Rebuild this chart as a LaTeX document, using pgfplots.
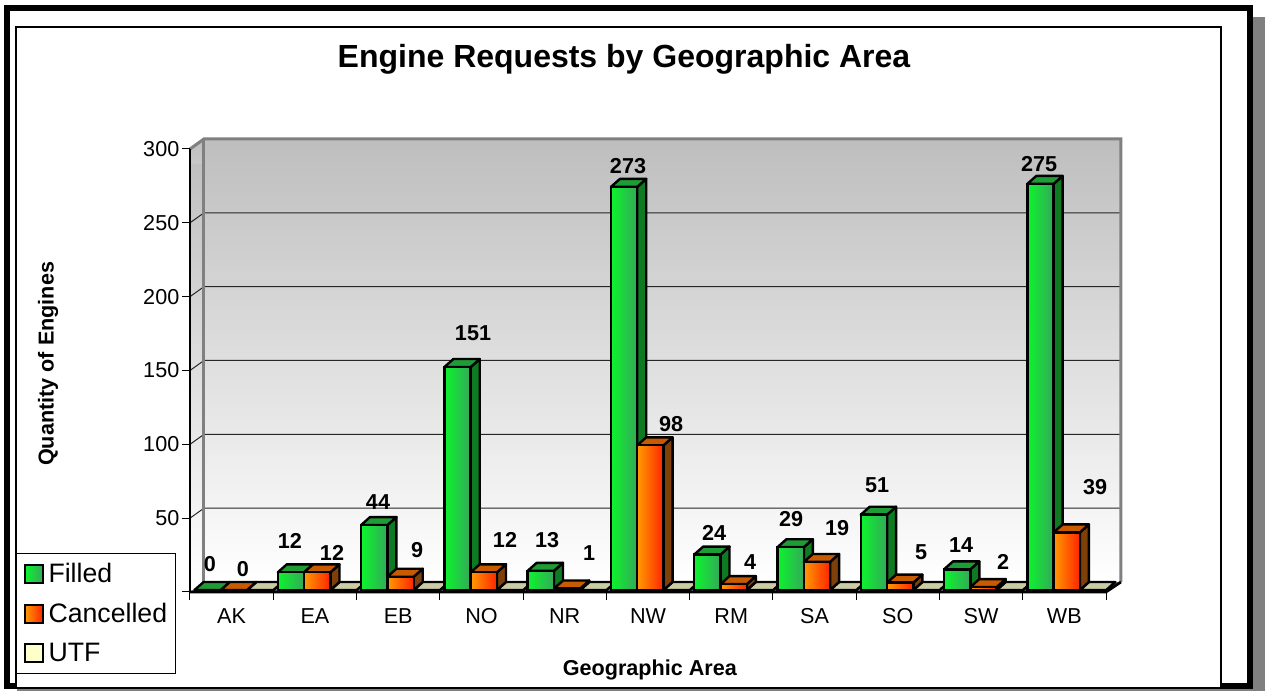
\documentclass[border=0pt]{standalone}
\usepackage{pgfplots}
\pgfplotsset{compat=1.18}
\usepackage{pgfplotstable}
\usepackage{fontspec}
\setmainfont{Liberation Sans}

\definecolor{gtop}{HTML}{1F9C35}
\definecolor{gside}{HTML}{0E7A22}
\definecolor{gl}{HTML}{0CF42C}
\definecolor{gr}{HTML}{35A85A}
\definecolor{otop}{HTML}{C85A00}
\definecolor{oside}{HTML}{7F3F08}
\definecolor{ol}{HTML}{FF9A00}
\definecolor{orr}{HTML}{FF2400}
\definecolor{utop}{HTML}{CCCCA4}
\definecolor{ufront}{HTML}{FFFFCC}
\definecolor{wall}{HTML}{BEBEBE}
\definecolor{edge}{HTML}{808080}

\pgfplotstableread{
name filled cancelled utf
AK 0 0 0
EA 12 12 0
EB 44 9 0
NO 151 12 0
NR 13 1 0
NW 273 98 0
RM 24 4 0
SA 29 19 0
SO 51 5 0
SW 14 2 0
WB 275 39 0
}\engines

% label positions are in picture pixels
\pgfplotstableread{
px py label
210 564 0
290 541 12
378 502 44
473 333 151
547 540 13
628 166 273
714 533 24
791 519 29
877 485 51
961 545 14
1039 164 275
243 569 0
332 553 12
417 550 9
505 540 12
589 553 1
671 424 98
750 562 4
837 528 19
921 552 5
1003 562 2
1095 487 39
}\labels

% one bar: left x, value, side colour, top colour, front style
\newcommand\solid[5]{%
  \pgfmathsetmacro\xl{#1}\pgfmathsetmacro\xm{\xl+0.158}\pgfmathsetmacro\xr{\xl+0.316}%
  \pgfmathsetmacro\xbl{\xl+0.108}\pgfmathsetmacro\xbr{\xr+0.108}%
  \pgfmathsetmacro\yf{#2+1.35}\pgfmathsetmacro\yb{\yf+5.4}%
  \edef\temp{%
    \noexpand\addplot[fill=#3,draw=black,line width=1.8pt,line join=round,forget plot] coordinates {(\xr,1.35) (\xbr,6.75) (\xbr,\yb) (\xr,\yf)} -- cycle;
    \noexpand\addplot[fill=#4,draw=black,line width=1.8pt,line join=round,forget plot] coordinates {(\xl,\yf) (\xbl,\yb) (\xbr,\yb) (\xr,\yf)} -- cycle;
    \noexpand\addplot[front,#5,bar shift=0pt,forget plot] coordinates {(\xm,#2)};
  }\temp}

\pgfplotsset{
  front/.style={ybar, bar width=19.7pt, yshift=1.5pt, draw=black, line width=1.8pt,
    legend image code/.code={\draw[##1,yshift=-1.5pt] (0pt,-6.75pt) rectangle (13.5pt,6.75pt);}},
  filled/.style={left color=gl, right color=gr},
  cancelled/.style={left color=ol, right color=orr},
  utf/.style={fill=ufront},
}

\begin{document}
\begin{tikzpicture}
\begin{scope}[x=0.75pt,y=-0.75pt,shift={(0pt,518.25pt)}]
  \useasboundingbox (0,0) rectangle (1265,691);
  \fill[white] (0,0) rectangle (1265,691);
  \fill[edge] (1253,17) rectangle (1265,691);
  \fill[edge] (17,688) rectangle (1265,691);
  \draw[black,line width=4.5pt] (7,8) rectangle (1250,686);
  \draw[black,fill=white,line width=1pt] (16,27) rectangle (1221,688);
\end{scope}
\begin{axis}[
  at={(142.5pt,74.25pt)}, anchor=south west,
  scale only axis, width=687pt, height=332.25pt,
  xmin=0, xmax=11, ymin=0, ymax=300,
  clip=false, axis on top,
  axis x line*=bottom, axis y line*=left,
  axis line style={black,line width=1pt,-},
  font=\fontsize{16.2}{19}\selectfont,
  /pgf/number format/assume math mode=true,
  xtick={0,...,11}, x tick label as interval,
  xticklabels={AK,EA,EB,NO,NR,NW,RM,SA,SO,SW,WB},
  ytick={0,50,...,300},
  yticklabels={,50,100,150,200,250,300},
  tick style={black,line width=0.75pt},
  tick align=outside, major tick length=6pt,
  xticklabel style={yshift=-3pt},
  yticklabel style={xshift=1.5pt},
  title={\bfseries Engine Requests by Geographic Area},
  title style={at={(axis description cs:0.4738,1.185)},anchor=center,font=\fontsize{24}{28}\selectfont},
  xlabel={\bfseries Geographic Area},
  xlabel style={at={(axis description cs:0.502,-0.176)},anchor=center,font=\fontsize{16.2}{19}\selectfont},
  ylabel={\bfseries Quantity of Engines},
  ylabel style={at={(axis description cs:-0.155,0.5147)},anchor=center,font=\fontsize{16.2}{19}\selectfont},
  legend style={at={(axis description cs:-0.19,0.088)},anchor=north west,
    draw=black,line width=0.75pt,fill=white,font=\fontsize{20}{24}\selectfont,
    row sep=11.75pt,inner xsep=5.5pt,inner ysep=6.5pt,
    cells={anchor=west},
    /tikz/every odd column/.append style={column sep=2.25pt},
    nodes={inner sep=1pt}},
  legend cell align=left,
]
  % walls and floor
  \fill[top color=wall,bottom color=white] (axis cs:0,0) -- (axis cs:0.168,6.77) -- (axis cs:0.168,300) -- (axis cs:0,300) -- cycle;
  \fill[top color=wall,bottom color=white] (axis cs:0.168,6.77) rectangle (axis cs:11.18,306.77);
  \fill[top color=wall,bottom color=wall!85!white] (axis cs:0,300) -- (axis cs:0.168,306.77) -- (axis cs:0.168,290) -- (axis cs:0,290) -- cycle;
  \pgfplotsinvokeforeach{50,100,...,250}{
    \draw[black!85,line width=0.75pt] (axis cs:0,#1) -- (axis cs:0.168,#1+6.77) -- (axis cs:11.18,#1+6.77);
  }
  \draw[edge,line width=2.25pt] (axis cs:0,300) -- (axis cs:0.168,306.77) -- (axis cs:11.18,306.77) -- (axis cs:11.18,6.77);
  \draw[edge,line width=2.25pt] (axis cs:0.168,306.77) -- (axis cs:0.168,6.77);
  \fill[edge] (axis cs:0,0) -- (axis cs:0.168,6.77) -- (axis cs:11.18,6.77) -- (axis cs:11,0) -- cycle;
  \draw[black,line width=2pt] (axis cs:0,0) -- (axis cs:11,0) -- (axis cs:11.18,6.77);

  \addlegendimage{front,filled}
  \addlegendimage{front,cancelled}
  \addlegendimage{front,utf}

  % empty UTF bars lie on the floor
  \pgfplotsforeachungrouped \i in {0,...,10}{%
    \pgfplotstablegetelem{\i}{utf}\of\engines
    \let\val\pgfplotsretval
    \pgfmathsetmacro\pos{\i+0.687}%
    \solid{\pos}{\val}{utop}{utop}{utf}%
  }
  \pgfplotsforeachungrouped \i in {0,...,10}{%
    \pgfplotstablegetelem{\i}{filled}\of\engines
    \let\val\pgfplotsretval
    \pgfmathsetmacro\pos{\i+0.055}%
    \solid{\pos}{\val}{gside}{gtop}{filled}%
  }
  \pgfplotsforeachungrouped \i in {0,...,10}{%
    \pgfplotstablegetelem{\i}{cancelled}\of\engines
    \let\val\pgfplotsretval
    \pgfmathsetmacro\pos{\i+0.371}%
    \solid{\pos}{\val}{oside}{otop}{cancelled}%
  }

  % data labels
  \addplot[only marks, mark=none, forget plot,
    point meta=explicit symbolic, nodes near coords,
    every node near coord/.append style={anchor=center,inner sep=0pt,
      font=\fontsize{16.2}{19}\selectfont\bfseries}]
    table[x expr=(\thisrow{px}-190)/83.27, y expr=(592-\thisrow{py})/1.4767, meta=label] {\labels};

  \legend{Filled,Cancelled,UTF}
\end{axis}
\end{tikzpicture}
\end{document}
